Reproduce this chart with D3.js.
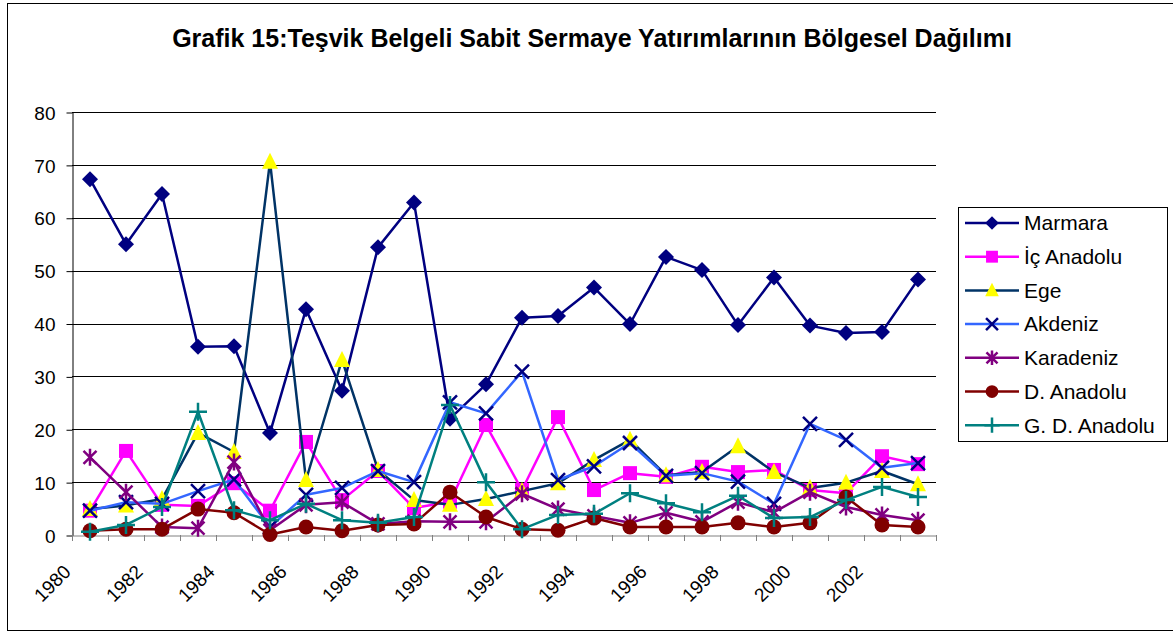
<!DOCTYPE html>
<html>
<head>
<meta charset="utf-8">
<script src="https://cdn.jsdelivr.net/npm/d3@7"></script>
<style>
  body { margin: 0; background: #fff; }
  text { font-family: Arial, "Liberation Sans", sans-serif; }
</style>
</head>
<body>
<svg width="1173" height="633"></svg>
<script>
var years = d3.range(1980, 2004);
var yTicks = [0, 10, 20, 30, 40, 50, 60, 70, 80];

var marmara    = [67.3, 55.0, 64.5, 35.6, 35.7, 19.3, 42.7, 27.3, 54.4, 62.9, 22.0, 28.5, 41.1, 41.4, 46.8, 39.9, 52.6, 50.1, 39.7, 48.7, 39.6, 38.2, 38.4, 48.3];
var icAnadolu  = [4.6, 15.9, 5.7, 5.5, 9.8, 4.6, 17.6, 6.6, 12.1, 5.1, 6.3, 20.8, 8.5, 22.3, 8.5, 11.7, 11.0, 12.9, 11.9, 12.3, 8.5, 7.9, 14.9, 13.4];
var ege        = [4.9, 5.6, 6.8, 19.3, 15.7, 70.6, 10.4, 33.1, 12.3, 6.6, 5.7, 6.8, 8.3, 9.8, 14.2, 18.0, 11.3, 11.9, 16.8, 11.9, 8.9, 9.9, 12.1, 9.6];
var akdeniz    = [4.6, 6.2, 5.9, 8.3, 10.5, 1.5, 7.6, 8.9, 12.1, 10.0, 25.1, 23.0, 30.9, 10.4, 13.0, 17.4, 11.2, 11.7, 10.1, 5.9, 21.0, 18.0, 12.7, 13.6];
var karadeniz  = [14.7, 8.1, 1.5, 1.3, 13.8, 0.9, 5.7, 6.2, 2.1, 2.6, 2.5, 2.5, 7.8, 4.9, 3.6, 2.3, 4.2, 2.5, 6.2, 4.3, 8.1, 5.3, 3.8, 2.8];
var dAnadolu   = [0.8, 1.1, 1.1, 4.9, 4.2, 0.1, 1.5, 0.8, 1.9, 2.1, 8.1, 3.4, 1.1, 0.9, 3.2, 1.5, 1.5, 1.5, 2.3, 1.5, 2.3, 7.2, 1.9, 1.5];
var gdAnadolu  = [0.6, 1.9, 5.3, 23.3, 4.7, 2.8, 5.9, 2.8, 2.3, 3.4, 24.6, 10.0, 1.1, 3.8, 4.0, 7.9, 6.0, 4.3, 7.4, 3.2, 3.4, 6.6, 9.1, 7.2];

var series = [
  { name: "Marmara",       values: marmara,   line: "#000080", fill: "#000080", marker: "diamond" },
  { name: "İç Anadolu",    values: icAnadolu, line: "#FF00FF", fill: "#FF00FF", marker: "square" },
  { name: "Ege",           values: ege,       line: "#003366", fill: "#FFFF00", marker: "triangle" },
  { name: "Akdeniz",       values: akdeniz,   line: "#3366FF", fill: "#000080", marker: "x" },
  { name: "Karadeniz",     values: karadeniz, line: "#800080", fill: "#800080", marker: "star" },
  { name: "D. Anadolu",    values: dAnadolu,  line: "#800000", fill: "#800000", marker: "circle" },
  { name: "G. D. Anadolu", values: gdAnadolu, line: "#008080", fill: "#008080", marker: "plus" }
];

var svg = d3.select("svg");
var plotL = 72, plotT = 112, plotR = 936, plotB = 535;

// outer border
svg.append("rect")
  .attr("x", 7.5).attr("y", 3.5)
  .attr("width", 1175).attr("height", 627)
  .attr("fill", "none").attr("stroke", "#000").attr("stroke-width", 1);

svg.append("text")
  .attr("x", 592).attr("y", 47)
  .attr("text-anchor", "middle")
  .style("font-size", "25px").style("font-weight", "bold")
  .text("Grafik 15:Teşvik Belgeli Sabit Sermaye Yatırımlarının Bölgesel Dağılımı");

var x = d3.scaleBand().domain(years).range([plotL, plotR]);
var y = d3.scaleLinear().domain([0, 80]).range([plotB, plotT]);

// gridlines
svg.append("g")
  .selectAll("line")
  .data(yTicks.slice(1))
  .join("line")
  .attr("x1", plotL).attr("x2", plotR)
  .attr("y1", d => Math.round(y(d)) + 0.5).attr("y2", d => Math.round(y(d)) + 0.5)
  .attr("stroke", "#000").attr("stroke-width", 1);

// y axis
var yAxis = svg.append("g")
  .attr("transform", "translate(" + (plotL + 0.5) + ",0.5)")
  .call(d3.axisLeft(y).tickValues(yTicks).tickSize(6).tickPadding(11).tickSizeOuter(0));
yAxis.select(".domain").attr("stroke", "#000");
yAxis.selectAll("line").attr("stroke", "#000");
yAxis.selectAll("text").style("font-size", "19px").attr("fill", "#000").attr("dy", "0.35em");

// x axis
var xAxis = svg.append("g")
  .attr("transform", "translate(0," + (plotB + 0.5) + ")")
  .call(d3.axisBottom(x).tickSize(0).tickFormat(""));
xAxis.select(".domain").attr("stroke", "#808080");

// category boundary ticks
svg.append("g")
  .selectAll("line")
  .data(years.concat([2004]))
  .join("line")
  .attr("x1", d => Math.round(d === 2004 ? plotR : x(d)) + 0.5)
  .attr("x2", d => Math.round(d === 2004 ? plotR : x(d)) + 0.5)
  .attr("y1", plotB).attr("y2", plotB + 6)
  .attr("stroke", "#808080");

// rotated year labels
svg.append("g")
  .selectAll("text")
  .data(years.filter(d => d % 2 === 0))
  .join("text")
  .attr("transform", d => "translate(" + (x(d) + x.bandwidth() / 2 - 18) + "," + (plotB + 38) + ") rotate(-45)")
  .attr("text-anchor", "end")
  .style("font-size", "19px")
  .text(d => d);

function drawMarker(sel, s, size) {
  var k = size || 1;
  if (s.marker === "diamond") {
    sel.append("path").attr("d", "M0,-8 L8,0 L0,8 L-8,0 Z").attr("transform", "scale(" + k + ")").attr("fill", s.fill);
  } else if (s.marker === "square") {
    sel.append("rect").attr("x", -7 * k).attr("y", -7 * k).attr("width", 14 * k).attr("height", 14 * k).attr("fill", s.fill);
  } else if (s.marker === "triangle") {
    sel.append("path").attr("d", "M0,-9 L8,7 L-8,7 Z").attr("transform", "scale(" + k + ")").attr("fill", s.fill);
  } else if (s.marker === "x") {
    sel.append("path").attr("d", "M-7,-7 L7,7 M-7,7 L7,-7").attr("transform", "scale(" + k + ")")
      .attr("stroke", s.fill).attr("stroke-width", 2.5 / k).attr("fill", "none");
  } else if (s.marker === "star") {
    sel.append("path").attr("d", "M-6.5,-6.5 L6.5,6.5 M-6.5,6.5 L6.5,-6.5 M0,-8.5 L0,8.5").attr("transform", "scale(" + k + ")")
      .attr("stroke", s.fill).attr("stroke-width", 2.5 / k).attr("fill", "none");
  } else if (s.marker === "circle") {
    sel.append("circle").attr("r", 7.5 * k).attr("fill", s.fill);
  } else if (s.marker === "plus") {
    sel.append("path").attr("d", "M-9,0 L9,0 M0,-9 L0,9").attr("transform", "scale(" + k + ")")
      .attr("stroke", s.fill).attr("stroke-width", 2.5 / k).attr("fill", "none");
  }
}

var line = d3.line()
  .x((d, i) => x(years[i]) + x.bandwidth() / 2)
  .y(d => y(d));

series.forEach(function(s) {
  var g = svg.append("g");
  g.append("path")
    .attr("d", line(s.values))
    .attr("fill", "none")
    .attr("stroke", s.line)
    .attr("stroke-width", 2.5)
    .attr("stroke-linejoin", "round");
  g.selectAll("g.pt")
    .data(s.values)
    .join("g")
    .attr("class", "pt")
    .attr("transform", (d, i) => "translate(" + (x(years[i]) + x.bandwidth() / 2) + "," + y(d) + ")")
    .each(function() { drawMarker(d3.select(this), s); });
});

// legend
var lg = svg.append("g");
lg.append("rect")
  .attr("x", 958.5).attr("y", 207.5)
  .attr("width", 209).attr("height", 234)
  .attr("fill", "#fff").attr("stroke", "#000");
series.forEach(function(s, i) {
  var yy = 223 + i * 33.7;
  var e = lg.append("g").attr("transform", "translate(0," + yy + ")");
  e.append("line").attr("x1", 965).attr("x2", 1019).attr("y1", 0).attr("y2", 0)
    .attr("stroke", s.line).attr("stroke-width", 2.5);
  drawMarker(e.append("g").attr("transform", "translate(992,0)"), s, 0.85);
  e.append("text").attr("x", 1024).attr("y", 0).attr("dy", "0.35em")
    .style("font-size", "21px").text(s.name);
});
</script>
</body>
</html>
